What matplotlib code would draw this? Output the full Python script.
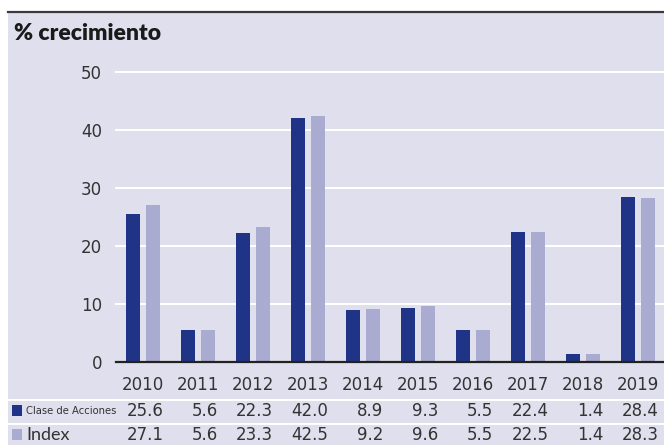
import numpy as np
import matplotlib.pyplot as plt
from matplotlib.patches import Rectangle
from matplotlib.lines import Line2D
from matplotlib.transforms import blended_transform_factory

years = ['2010', '2011', '2012', '2013', '2014', '2015', '2016', '2017', '2018', '2019']
clase = [25.6, 5.6, 22.3, 42.0, 8.9, 9.3, 5.5, 22.4, 1.4, 28.4]
index = [27.1, 5.6, 23.3, 42.5, 9.2, 9.6, 5.5, 22.5, 1.4, 28.3]
series_names = ['Clase de Acciones', 'Index']
yticks = [0, 10, 20, 30, 40, 50]

dark = '#1f3486'
light = '#a9abd0'
bg = '#dfdfed'
txt = '#333333'

W, H = 664, 445
fig = plt.figure(figsize=(W / 100, H / 100), dpi=100)
fig.patch.set_facecolor('white')

def fx(px):
    return px / W

def fy(py):
    return 1 - py / H

# panel background and top rule
fig.patches.append(Rectangle((fx(8), 0), 1 - fx(8), fy(12), transform=fig.transFigure,
                             facecolor=bg, edgecolor='none', zorder=-5))
fig.lines.append(Line2D([fx(8), 1], [fy(11.5), fy(11.5)], transform=fig.transFigure,
                        color='#3a3a3a', lw=1.6))
fig.text(fx(14), fy(34), '% crecimiento', fontsize=16.5, fontweight='heavy',
         family=['Lato', 'DejaVu Sans'], color='#1a1a1a', va='center', ha='left')

ax = fig.add_axes([fx(116), fy(362), 1 - fx(116), fy(72) - fy(362)])
ax.set_zorder(2)
ax.set_facecolor('none')
x = np.arange(len(years))
w = 0.255
off = 0.18
ax.bar(x - off, clase, w, color=dark, zorder=3)
ax.bar(x + off, index, w, color=light, zorder=3)
ax.set_xlim(-0.49, 9.47)
ax.set_ylim(0, 50)
ax.set_yticks(yticks)
ax.set_yticklabels([str(v) for v in yticks], fontsize=12, color=txt)
ax.tick_params(axis='y', length=0, pad=10)
ax.set_xticks([])
for v in yticks[1:]:
    ax.axhline(v, color='white', lw=1.5, zorder=1, clip_on=False)
ax.axhline(0, color='#222222', lw=1.6, zorder=4, clip_on=False)
for s in ax.spines.values():
    s.set_visible(False)

# year row and value table under the bars
tr = blended_transform_factory(ax.transData, fig.transFigure)
for i, yr in enumerate(years):
    ax.text(i, fy(385), yr, transform=tr, ha='center', va='center', fontsize=12, color=txt)
    ax.text(i + 0.37, fy(411), f'{clase[i]:.1f}', transform=tr, ha='right', va='center',
            fontsize=12, color=txt)
    ax.text(i + 0.37, fy(435), f'{index[i]:.1f}', transform=tr, ha='right', va='center',
            fontsize=12, color=txt)

for py in (400, 424):
    fig.lines.append(Line2D([fx(8), 1], [fy(py), fy(py)], transform=fig.transFigure,
                            color='white', lw=1.5))

fig.patches.append(Rectangle((fx(12), fy(416)), fx(10), fy(405) - fy(416),
                             transform=fig.transFigure, facecolor=dark, edgecolor='none'))
fig.patches.append(Rectangle((fx(12), fy(440)), fx(10), fy(429) - fy(440),
                             transform=fig.transFigure, facecolor=light, edgecolor='none'))
fig.text(fx(26), fy(411), series_names[0], fontsize=7.2, color=txt, va='center', ha='left')
fig.text(fx(26), fy(435), series_names[1], fontsize=13, color=txt, va='center', ha='left',
         family=['Lato', 'DejaVu Sans'])

fig.savefig('out.png', dpi=100, facecolor=fig.get_facecolor())
